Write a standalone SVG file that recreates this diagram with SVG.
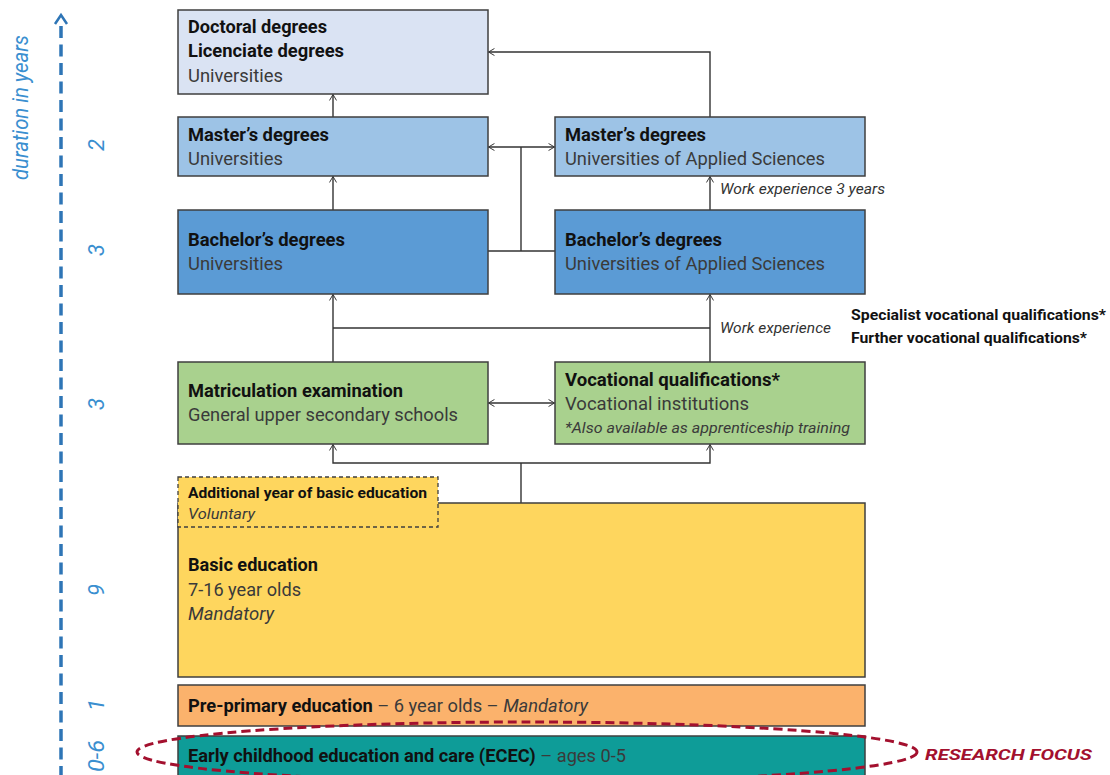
<svg xmlns="http://www.w3.org/2000/svg" width="1110" height="775" viewBox="0 0 1110 775">
<style>
.box{stroke:#3f3f3f;stroke-width:1.5}
.t{font-family:Roboto,"Liberation Sans",sans-serif;font-size:18px;fill:#3a3a3a}
.b{font-weight:bold;fill:#111}
.i{font-style:italic}
.s{font-size:15px}
.lbl{font-family:Roboto,"Liberation Sans",sans-serif;font-size:15px;font-style:italic;fill:#333}
.ax{font-family:Roboto,"Liberation Sans",sans-serif;font-size:22px;fill:#3a8fd0}
.c{fill:none;stroke:#333;stroke-width:1.4}
</style>
<defs>
<marker id="a" viewBox="0 0 10 12" refX="9.5" refY="6" markerWidth="7" markerHeight="10" orient="auto-start-reverse" markerUnits="userSpaceOnUse">
<path d="M1,1 L9.5,6 L1,11" fill="none" stroke="#333" stroke-width="1.4"/>
</marker>
</defs>
<rect width="1110" height="775" fill="#fff"/>

<g id="axis">
<line x1="61" y1="26" x2="61" y2="775" stroke="#2e75b6" stroke-width="3.5" stroke-dasharray="12,6.5"/>
<polyline points="55,24 61,15 67,24" fill="none" stroke="#2e75b6" stroke-width="2.5"/>
<text class="ax i" transform="translate(28,180) rotate(-90)" font-size="17" textLength="145" lengthAdjust="spacingAndGlyphs">duration in years</text>
<text class="ax i" transform="translate(104,151) rotate(-90)">2</text>
<text class="ax i" transform="translate(104,256) rotate(-90)">3</text>
<text class="ax i" transform="translate(104,410) rotate(-90)">3</text>
<text class="ax i" transform="translate(104,596) rotate(-90)">9</text>
<text class="ax i" transform="translate(104,711) rotate(-90)">1</text>
<text class="ax i" transform="translate(104,772) rotate(-90)" textLength="32" lengthAdjust="spacingAndGlyphs">0-6</text>
</g>

<g id="connectors">
<line class="c" x1="333" y1="117" x2="333" y2="94.5" marker-end="url(#a)"/>
<line class="c" x1="333" y1="210" x2="333" y2="176.5" marker-end="url(#a)"/>
<polyline class="c" points="710,117 710,52 488.5,52" marker-end="url(#a)"/>
<line class="c" x1="488.5" y1="147" x2="554.5" y2="147" marker-start="url(#a)" marker-end="url(#a)"/>
<line class="c" x1="521" y1="147" x2="521" y2="251"/>
<line class="c" x1="488" y1="251" x2="555" y2="251"/>
<line class="c" x1="710" y1="210" x2="710" y2="176.5" marker-end="url(#a)"/>
<line class="c" x1="333" y1="362" x2="333" y2="294.5" marker-end="url(#a)"/>
<line class="c" x1="710" y1="362" x2="710" y2="294.5" marker-end="url(#a)"/>
<line class="c" x1="333" y1="328" x2="710" y2="328"/>
<line class="c" x1="488.5" y1="403" x2="554.5" y2="403" marker-start="url(#a)" marker-end="url(#a)"/>
<polyline class="c" points="333,444.5 333,463 710,463 710,444.5" marker-start="url(#a)" marker-end="url(#a)"/>
<line class="c" x1="521" y1="463" x2="521" y2="503"/>
<text class="lbl" x="720" y="194" textLength="165" lengthAdjust="spacingAndGlyphs">Work experience 3 years</text>
<text class="lbl" x="720" y="333" textLength="111" lengthAdjust="spacingAndGlyphs">Work experience</text>
</g>

<g id="doctoral">
<rect class="box" x="178" y="10" width="310" height="84" fill="#dae3f3"/>
<text class="t b" x="188" y="33" textLength="139" lengthAdjust="spacingAndGlyphs">Doctoral degrees</text>
<text class="t b" x="188" y="57" textLength="156" lengthAdjust="spacingAndGlyphs">Licenciate degrees</text>
<text class="t" x="188" y="82" textLength="95" lengthAdjust="spacingAndGlyphs">Universities</text>
</g>

<g id="master-univ">
<rect class="box" x="178" y="117" width="310" height="59" fill="#9dc3e6"/>
<text class="t b" x="188" y="141" textLength="141" lengthAdjust="spacingAndGlyphs">Master’s degrees</text>
<text class="t" x="188" y="165" textLength="95" lengthAdjust="spacingAndGlyphs">Universities</text>
</g>

<g id="master-uas">
<rect class="box" x="555" y="117" width="310" height="59" fill="#9dc3e6"/>
<text class="t b" x="565" y="141" textLength="141" lengthAdjust="spacingAndGlyphs">Master’s degrees</text>
<text class="t" x="565" y="165" textLength="260" lengthAdjust="spacingAndGlyphs">Universities of Applied Sciences</text>
</g>

<g id="bachelor-univ">
<rect class="box" x="178" y="210" width="310" height="84" fill="#5b9bd5"/>
<text class="t b" x="188" y="246" textLength="157" lengthAdjust="spacingAndGlyphs">Bachelor’s degrees</text>
<text class="t" x="188" y="270" textLength="95" lengthAdjust="spacingAndGlyphs" fill="#1f2d3d">Universities</text>
</g>

<g id="bachelor-uas">
<rect class="box" x="555" y="210" width="310" height="84" fill="#5b9bd5"/>
<text class="t b" x="565" y="246" textLength="157" lengthAdjust="spacingAndGlyphs">Bachelor’s degrees</text>
<text class="t" x="565" y="270" textLength="260" lengthAdjust="spacingAndGlyphs" fill="#1f2d3d">Universities of Applied Sciences</text>
</g>

<g id="specialist">
<text class="t b s" x="851" y="320" textLength="255" lengthAdjust="spacingAndGlyphs">Specialist vocational qualifications*</text>
<text class="t b s" x="851" y="343" textLength="236" lengthAdjust="spacingAndGlyphs">Further vocational qualifications*</text>
</g>

<g id="matriculation">
<rect class="box" x="178" y="362" width="310" height="82" fill="#a9d18e"/>
<text class="t b" x="188" y="397" textLength="215" lengthAdjust="spacingAndGlyphs">Matriculation examination</text>
<text class="t" x="188" y="421" textLength="270" lengthAdjust="spacingAndGlyphs">General upper secondary schools</text>
</g>

<g id="vocational">
<rect class="box" x="555" y="362" width="310" height="82" fill="#a9d18e"/>
<text class="t b" x="565" y="386" textLength="215" lengthAdjust="spacingAndGlyphs">Vocational qualifications*</text>
<text class="t" x="565" y="410" textLength="184" lengthAdjust="spacingAndGlyphs">Vocational institutions</text>
<text class="t i s" x="565" y="433" textLength="285" lengthAdjust="spacingAndGlyphs">*Also available as apprenticeship training</text>
</g>

<g id="basic">
<rect class="box" x="178" y="503" width="687" height="174" fill="#fed65e"/>
<text class="t b" x="188" y="571" textLength="130" lengthAdjust="spacingAndGlyphs">Basic education</text>
<text class="t" x="188" y="596" textLength="113" lengthAdjust="spacingAndGlyphs">7-16 year olds</text>
<text class="t i" x="188" y="620" textLength="86" lengthAdjust="spacingAndGlyphs">Mandatory</text>
</g>

<g id="additional-year">
<rect x="178" y="477" width="260" height="50" fill="#fed65e" stroke="#3f3f3f" stroke-width="1.3" stroke-dasharray="4,3"/>
<text class="t b s" x="188" y="498" textLength="239" lengthAdjust="spacingAndGlyphs">Additional year of basic education</text>
<text class="t i s" x="188" y="519" textLength="67" lengthAdjust="spacingAndGlyphs">Voluntary</text>
</g>

<g id="pre-primary">
<rect class="box" x="178" y="685" width="687" height="41" fill="#fbb26c"/>
<text class="t" x="188" y="712" textLength="400" lengthAdjust="spacingAndGlyphs"><tspan class="b">Pre-primary education</tspan> – 6 year olds – <tspan class="i">Mandatory</tspan></text>
</g>

<g id="ecec">
<rect class="box" x="178" y="736" width="687" height="45" fill="#0e9c98"/>
<text class="t" x="188" y="762" textLength="438" lengthAdjust="spacingAndGlyphs" fill="#16302e"><tspan class="b">Early childhood education and care (ECEC)</tspan> – ages 0-5</text>
</g>

<g id="research-focus">
<ellipse cx="527" cy="752" rx="390" ry="30" fill="none" stroke="#a3102e" stroke-width="3" stroke-dasharray="9,5"/>
<text x="925" y="760" font-family="Roboto,'Liberation Sans',sans-serif" font-size="15" font-weight="bold" font-style="italic" fill="#a3102e" textLength="167" lengthAdjust="spacingAndGlyphs">RESEARCH FOCUS</text>
</g>
</svg>
